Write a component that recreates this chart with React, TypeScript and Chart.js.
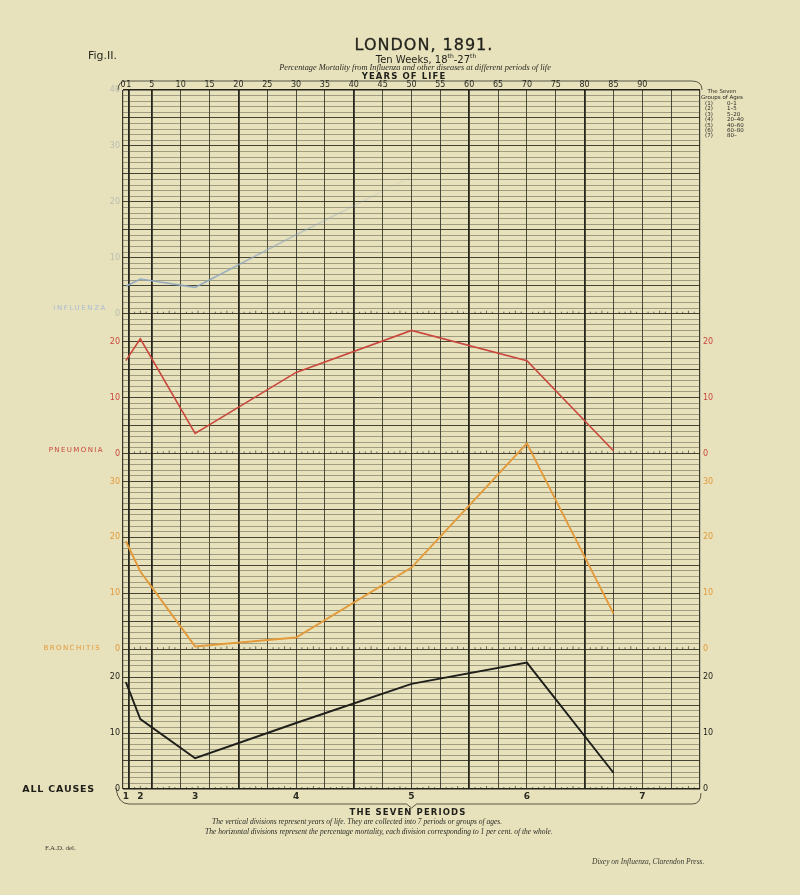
import React, { useEffect, useRef } from "react";
import { Chart, registerables } from "chart.js";

Chart.register(...registerables);

// ---------- data ----------
const periodNames = ["1", "2", "3", "4", "5", "6", "7"];
const periodLabelAges = [0.5, 3, 12.5, 30, 50, 70, 90];
const plotAges = [0.5, 3, 12.5, 30, 50, 70, 85];
const ageGroups = ["0–1", "1–5", "5–20", "20–40", "40–60", "60–80", "80–"];

const influenza = [4.9, 6.2, 4.7, 14.1, 24.5];
const pneumonia = [16.6, 20.5, 3.6, 14.5, 22.0, 16.6, 0.5];
const bronchitis = [19.3, 13.9, 0.5, 2.1, 14.6, 36.8, 6.4];
const allCauses = [19.1, 12.5, 5.5, 11.8, 18.8, 22.6, 2.9];

const yearTicks = [0, 1, 5, 10, 15, 20, 25, 30, 35, 40, 45, 50, 55, 60, 65, 70, 75, 80, 85, 90, 95, 100];
const yearTickLabels = ["0", "1", "5", "10", "15", "20", "25", "30", "35", "40", "45", "50", "55", "60", "65", "70", "75", "80", "85", "90", "", ""];
const periodBoundaries = [1, 5, 20, 40, 60, 80];

const influenzaTicks = [0, 10, 20, 30, 40];
const pneumoniaTicks = [0, 10, 20];
const bronchitisTicks = [0, 10, 20, 30];
const allCausesTicks = [0, 10, 20];

// ---------- layout / style ----------
const OFFSET_ALL = 0;
const OFFSET_BRONCH = 25;
const OFFSET_PNEU = 60;
const OFFSET_INFL = 85;
const Y_MAX = 125;

const PAPER = "#e7e1bc";
const INK = "rgba(40,40,28,0.9)";
const RED = "#c9473c";
const ORANGE = "#e39a3a";
const BLACK = "#1e1e1a";
const BLUE = "rgba(140,165,190,0.95)";
const BLUE_TEXT = "#a9bdd4";
const FAINT = "rgba(150,160,165,0.55)";

type TickInfo = { text: string; color: string };
const leftLabels = new Map<number, TickInfo>();
const rightLabels = new Map<number, TickInfo>();
allCausesTicks.forEach((t) => { leftLabels.set(OFFSET_ALL + t, { text: String(t), color: BLACK }); rightLabels.set(OFFSET_ALL + t, { text: String(t), color: BLACK }); });
bronchitisTicks.forEach((t) => { leftLabels.set(OFFSET_BRONCH + t, { text: String(t), color: ORANGE }); rightLabels.set(OFFSET_BRONCH + t, { text: String(t), color: ORANGE }); });
pneumoniaTicks.forEach((t) => { leftLabels.set(OFFSET_PNEU + t, { text: String(t), color: RED }); rightLabels.set(OFFSET_PNEU + t, { text: String(t), color: RED }); });
influenzaTicks.forEach((t) => { leftLabels.set(OFFSET_INFL + t, { text: String(t), color: FAINT }); });

const unitTicks: number[] = [];
for (let v = 0; v <= Y_MAX; v++) unitTicks.push(v);
const panelZeros = [OFFSET_ALL, OFFSET_BRONCH, OFFSET_PNEU, OFFSET_INFL];

const toPoints = (vals: number[], offset: number) => vals.map((v, i) => ({ x: plotAges[i], y: v + offset }));

const paperPlugin = {
  id: "paperDecor",
  beforeDatasetsDraw(chart: any) {
    const { ctx, scales, chartArea } = chart;
    const xs = scales.x, ys = scales.y;
    ctx.save();
    // year ticks along each panel's zero line
    ctx.strokeStyle = "rgba(40,40,30,0.8)";
    ctx.lineWidth = 0.8;
    for (const z of panelZeros) {
      const py = ys.getPixelForValue(z);
      for (let yr = 1; yr < 100; yr++) {
        if (yr % 5 === 0) continue;
        const px = xs.getPixelForValue(yr);
        ctx.beginPath();
        ctx.moveTo(px, py);
        ctx.lineTo(px, py - (yr % 5 === 3 ? 3 : 2));
        ctx.stroke();
      }
    }
    // frame above the year labels
    ctx.strokeStyle = "rgba(40,40,30,0.75)";
    ctx.lineWidth = 1;
    const ft = chartArea.top - 9;
    ctx.beginPath();
    ctx.moveTo(chartArea.left - 5, chartArea.top);
    ctx.quadraticCurveTo(chartArea.left - 5, ft, chartArea.left + 4, ft);
    ctx.lineTo(chartArea.right - 8, ft);
    ctx.quadraticCurveTo(chartArea.right + 2, ft, chartArea.right + 2, chartArea.top);
    ctx.stroke();
    // bracket under the period numbers
    const fb = chartArea.bottom + 15;
    const mid = xs.getPixelForValue(50);
    ctx.beginPath();
    ctx.moveTo(chartArea.left - 7, chartArea.bottom - 1);
    ctx.quadraticCurveTo(chartArea.left - 5, fb, chartArea.left + 6, fb);
    ctx.lineTo(mid - 5, fb);
    ctx.lineTo(mid, fb + 4);
    ctx.lineTo(mid + 5, fb);
    ctx.lineTo(chartArea.right - 8, fb);
    ctx.quadraticCurveTo(chartArea.right + 1, fb, chartArea.right + 1, chartArea.bottom + 4);
    ctx.stroke();
    ctx.restore();
  },
};

function ChartCanvas() {
  const ref = useRef<HTMLCanvasElement | null>(null);
  useEffect(() => {
    if (!ref.current) return;
    const chart = new Chart(ref.current, {
      type: "line",
      data: {
        datasets: [
          {
            label: "Influenza",
            data: toPoints(influenza, OFFSET_INFL),
            borderColor: (c: any) => {
              const ch = c.chart;
              if (!ch.chartArea) return BLUE;
              const xs = ch.scales.x;
              const g = ch.ctx.createLinearGradient(xs.getPixelForValue(15), 0, xs.getPixelForValue(46), 0);
              g.addColorStop(0, "rgba(140,165,190,0.9)");
              g.addColorStop(1, "rgba(150,170,190,0.08)");
              return g;
            },
            borderWidth: 1.6,
            pointRadius: 0,
            tension: 0,
          },
          { label: "Pneumonia", data: toPoints(pneumonia, OFFSET_PNEU), borderColor: RED, borderWidth: 1.6, pointRadius: 0, tension: 0 },
          { label: "Bronchitis", data: toPoints(bronchitis, OFFSET_BRONCH), borderColor: ORANGE, borderWidth: 1.9, pointRadius: 0, tension: 0 },
          { label: "All causes", data: toPoints(allCauses, OFFSET_ALL), borderColor: BLACK, borderWidth: 1.9, pointRadius: 0, tension: 0 },
        ],
      },
      options: {
        responsive: false,
        animation: false,
        devicePixelRatio: 1,
        events: [],
        layout: { padding: { left: 103, right: 80, top: 78, bottom: 92 } },
        plugins: { legend: { display: false }, tooltip: { enabled: false }, title: { display: false } },
        scales: {
          x: {
            type: "linear",
            position: "top",
            min: 0,
            max: 100,
            afterBuildTicks: (s: any) => { s.ticks = yearTicks.map((v) => ({ value: v })); },
            afterFit: (s: any) => { s.height = 12; },
            ticks: {
              autoSkip: false,
              maxRotation: 0,
              padding: 0,
              color: "#2a2a22",
              font: { family: "DejaVu Sans", size: 8 },
              callback: (_v: any, i: number) => yearTickLabels[i],
            },
            grid: {
              drawTicks: false,
              color: (c: any) => (periodBoundaries.includes(c.tick?.value) ? "rgba(25,25,18,0.95)" : INK),
              lineWidth: (c: any) => {
                const v = c.tick?.value;
                if (periodBoundaries.includes(v)) return 1.8;
                if (v === 0 || v === 100) return 1.2;
                return 0.9;
              },
            },
            border: { display: false },
          },
          x2: {
            type: "linear",
            position: "bottom",
            min: 0,
            max: 100,
            afterBuildTicks: (s: any) => { s.ticks = periodLabelAges.map((v) => ({ value: v })); },
            afterFit: (s: any) => { s.height = 14; },
            ticks: {
              autoSkip: false,
              maxRotation: 0,
              padding: 2,
              color: "#2a2a22",
              font: { family: "DejaVu Sans", size: 9, weight: "bold" },
              callback: (_v: any, i: number) => periodNames[i],
            },
            grid: { drawOnChartArea: false, drawTicks: false },
            border: { display: false },
          },
          y: {
            type: "linear",
            position: "left",
            min: 0,
            max: Y_MAX,
            afterBuildTicks: (s: any) => { s.ticks = unitTicks.map((v) => ({ value: v })); },
            afterFit: (s: any) => { s.width = 20; },
            ticks: {
              autoSkip: false,
              padding: 3,
              font: { family: "DejaVu Sans", size: 8 },
              color: (c: any) => leftLabels.get(c.tick?.value)?.color || INK,
              callback: (v: any) => leftLabels.get(Number(v))?.text ?? "",
            },
            grid: {
              drawTicks: false,
              color: (c: any) => {
                const v = c.tick?.value;
                if (v === 0 || v === Y_MAX) return "rgba(25,25,18,0.95)";
                return v % 5 === 0 ? "rgba(40,40,28,0.85)" : "rgba(60,60,45,0.6)";
              },
              lineWidth: (c: any) => {
                const v = c.tick?.value;
                if (v === 0 || v === Y_MAX) return 1.4;
                return v % 5 === 0 ? 1.1 : 0.7;
              },
            },
            border: { display: false },
          },
          y2: {
            type: "linear",
            position: "right",
            min: 0,
            max: Y_MAX,
            afterBuildTicks: (s: any) => { s.ticks = unitTicks.map((v) => ({ value: v })); },
            afterFit: (s: any) => { s.width = 20; },
            ticks: {
              autoSkip: false,
              padding: 3,
              font: { family: "DejaVu Sans", size: 8 },
              color: (c: any) => rightLabels.get(c.tick?.value)?.color || INK,
              callback: (v: any) => rightLabels.get(Number(v))?.text ?? "",
            },
            grid: { drawOnChartArea: false, drawTicks: false },
            border: { display: false },
          },
        },
      } as any,
      plugins: [paperPlugin],
    });
    return () => chart.destroy();
  }, []);
  return <canvas ref={ref} width={800} height={895} style={{ position: "absolute", left: 0, top: 0, width: 800, height: 895 }} />;
}

type TProps = { x: number; y: number; align?: "left" | "center" | "right"; style?: React.CSSProperties; children: React.ReactNode };
function T({ x, y, align = "left", style, children }: TProps) {
  const tx = align === "center" ? "-50%" : align === "right" ? "-100%" : "0";
  return (
    <div
      style={{
        position: "absolute",
        left: x,
        top: y,
        transform: `translate(${tx}, -50%)`,
        whiteSpace: "nowrap",
        lineHeight: 1,
        fontFamily: "DejaVu Sans, sans-serif",
        ...style,
      }}
    >
      {children}
    </div>
  );
}

const serifItalic: React.CSSProperties = { fontFamily: "Liberation Serif, serif", fontStyle: "italic", color: "#2a2a22" };

export default function App() {
  return (
    <div style={{ position: "absolute", left: 0, top: 0, width: 800, height: 895, background: PAPER, overflow: "hidden" }}>
      <ChartCanvas />
      <T x={88} y={55} style={{ fontSize: 11, color: "#2a2a22" }}>Fig.II.</T>
      <T x={424} y={45} align="center" style={{ fontSize: 16, letterSpacing: 1, color: "#1f1f1a", WebkitTextStroke: "0.3px #1f1f1a" }}>LONDON, 1891.</T>
      <T x={426} y={59} align="center" style={{ fontSize: 10, color: "#1f1f1a" }}>
        Ten Weeks, 18<sup style={{ fontSize: 6 }}>th</sup>-27<sup style={{ fontSize: 6 }}>th</sup>
      </T>
      <T x={415} y={68} align="center" style={{ ...serifItalic, fontSize: 8.3 }}>
        Percentage Mortality from Influenza and other diseases at different periods of life
      </T>
      <T x={404} y={76} align="center" style={{ fontSize: 8.5, fontWeight: "bold", letterSpacing: 1.1, color: "#1f1f1a" }}>YEARS OF LIFE</T>

      <T x={107} y={308} align="right" style={{ fontSize: 7, letterSpacing: 1.6, color: BLUE_TEXT }}>INFLUENZA</T>
      <T x={104} y={450} align="right" style={{ fontSize: 7, letterSpacing: 1.4, color: RED }}>PNEUMONIA</T>
      <T x={101} y={648} align="right" style={{ fontSize: 7, letterSpacing: 1.4, color: ORANGE }}>BRONCHITIS</T>
      <T x={95} y={789} align="right" style={{ fontSize: 9.5, fontWeight: "bold", letterSpacing: 0.8, color: "#1f1f1a" }}>ALL CAUSES</T>

      <T x={722} y={92} align="center" style={{ fontSize: 5.5, color: "#2a2a22" }}>The Seven</T>
      <T x={722} y={98} align="center" style={{ fontSize: 5.5, color: "#2a2a22" }}>Groups of Ages</T>
      {ageGroups.map((g, i) => (
        <React.Fragment key={g}>
          <T x={705} y={104 + i * 5.4} style={{ fontSize: 5.5, color: "#2a2a22" }}>{`(${i + 1})`}</T>
          <T x={727} y={104 + i * 5.4} style={{ fontSize: 5.5, color: "#2a2a22" }}>{g}</T>
        </React.Fragment>
      ))}

      <T x={408} y={812} align="center" style={{ fontSize: 8.5, fontWeight: "bold", letterSpacing: 1.1, color: "#1f1f1a" }}>THE SEVEN PERIODS</T>
      <T x={212} y={822} style={{ ...serifItalic, fontSize: 7.5 }}>
        The vertical divisions represent years of life. They are collected into 7 periods or groups of ages.
      </T>
      <T x={205} y={832} style={{ ...serifItalic, fontSize: 7.5 }}>
        The horizontal divisions represent the percentage mortality, each division corresponding to 1 per cent. of the whole.
      </T>
      <T x={45} y={848} style={{ fontFamily: "Liberation Serif, serif", fontSize: 7, color: "#3a3a30" }}>F.A.D. del.</T>
      <T x={592} y={862} style={{ ...serifItalic, fontSize: 7.5, color: "#3a3a30" }}>Dixey on Influenza, Clarendon Press.</T>
    </div>
  );
}
